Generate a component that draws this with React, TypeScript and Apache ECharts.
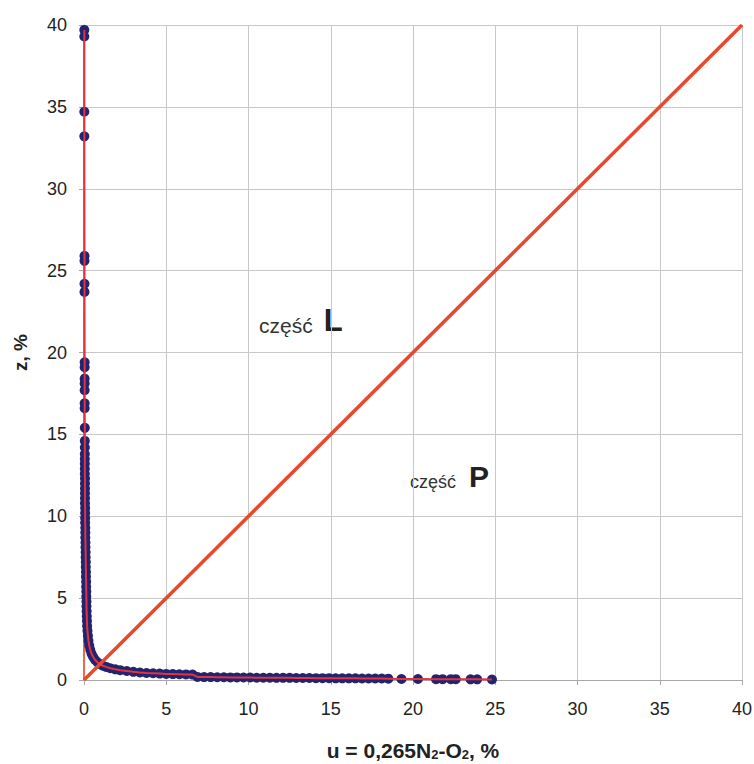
import React, { useEffect, useRef } from "react";
import * as echarts from "echarts";

const curveU = [
  0.02, 0.02, 0.02, 0.02, 0.03, 0.03, 0.03, 0.03, 0.04, 0.04, 0.04, 0.04, 0.04, 0.04, 0.04,
  0.05, 0.05, 0.05, 0.05, 0.05, 0.05, 0.05, 0.05, 0.06, 0.06, 0.06, 0.06, 0.06, 0.06,
  0.07, 0.07, 0.07, 0.07, 0.08, 0.08, 0.08, 0.09, 0.09, 0.1, 0.1, 0.11, 0.11, 0.12, 0.12,
  0.13, 0.13, 0.14, 0.14, 0.15, 0.15, 0.16, 0.17, 0.18, 0.19, 0.21, 0.24, 0.27, 0.32, 0.38,
  0.46, 0.56, 0.68, 0.82, 0.98, 1.15, 1.35, 1.6, 1.9, 2.2, 2.6, 3.0, 3.4, 3.8, 4.2, 4.6,
  5.0, 5.4, 5.8, 6.2, 6.6, 6.9, 7.3, 7.7, 8.1, 8.5, 8.9, 9.3, 9.7, 10.1, 10.5, 10.9, 11.3,
  11.7, 12.1, 12.5, 12.9, 13.3, 13.7, 14.1, 14.5, 14.9, 15.3, 15.7, 16.1, 16.5, 16.9, 17.3,
  17.7, 18.1, 18.5, 19.3, 20.3, 21.4, 21.8, 22.3, 22.6, 23.5, 23.9, 24.8,
];
const curveZ = [
  39.7, 39.3, 34.7, 33.2, 25.9, 25.6, 24.2, 23.7, 19.4, 19.1, 18.4, 18.1, 17.7, 16.9, 16.6,
  15.4, 14.6, 14.2, 13.8, 13.5, 13.2, 12.9, 12.6, 12.3, 12.0, 11.7, 11.4, 11.1, 10.8,
  10.5, 10.2, 9.9, 9.6, 9.3, 9.0, 8.7, 8.4, 8.1, 7.8, 7.5, 7.2, 6.9, 6.6, 6.3,
  6.0, 5.7, 5.4, 5.1, 4.8, 4.5, 4.2, 3.9, 3.6, 3.3, 3.0, 2.7, 2.4, 2.1, 1.85,
  1.6, 1.4, 1.22, 1.08, 0.96, 0.87, 0.8, 0.72, 0.65, 0.6, 0.55, 0.5, 0.46, 0.43, 0.41, 0.39,
  0.37, 0.36, 0.35, 0.34, 0.33, 0.19, 0.18, 0.18, 0.17, 0.17, 0.16, 0.16, 0.15, 0.15, 0.14, 0.14, 0.14,
  0.13, 0.13, 0.13, 0.12, 0.12, 0.12, 0.11, 0.11, 0.11, 0.1, 0.1, 0.1, 0.1, 0.09, 0.09,
  0.09, 0.09, 0.08, 0.06, 0.06, 0.05, 0.05, 0.05, 0.05, 0.04, 0.04, 0.03,
];

// boundaries: vertical u = 0 and diagonal z = u
const verticalU = [0, 0];
const verticalZ = [0, 40];
const diagonalU = [0, 40];
const diagonalZ = [0, 40];

const axisMin = 0;
const axisMax = 40;
const axisStep = 5;

const FONT = "'Liberation Sans', Arial, sans-serif";

export default function App() {
  const ref = useRef<HTMLDivElement>(null);

  useEffect(() => {
    if (!ref.current) return;
    const chart = echarts.init(ref.current, undefined, { renderer: "svg" });
    const curve = curveU.map((u, i) => [u, curveZ[i]]);
    const vertical = verticalU.map((u, i) => [u, verticalZ[i]]);
    const diagonal = diagonalU.map((u, i) => [u, diagonalZ[i]]);

    const axisCommon = {
      type: "value" as const,
      min: axisMin,
      max: axisMax,
      interval: axisStep,
      axisLine: { show: true, onZero: false, lineStyle: { color: "#a8a8a8", width: 1 } },
      axisTick: { show: true, length: 5, lineStyle: { color: "#a8a8a8" } },
      splitLine: { show: true, lineStyle: { color: "#c8c8c8", width: 1 } },
      nameLocation: "middle" as const,
    };

    chart.setOption({
      animation: false,
      backgroundColor: "#ffffff",
      grid: { left: 84, right: 12, top: 25, bottom: 84, outerBoundsMode: "none", containLabel: false },
      xAxis: {
        ...axisCommon,
        name: "u = 0,265N{sub|2}-O{sub|2}, %",
        nameGap: 59,
        nameTextStyle: {
          fontFamily: FONT,
          fontSize: 21,
          lineHeight: 22,
          fontWeight: "bold",
          color: "#222",
          rich: {
            sub: { fontSize: 13, lineHeight: 22, fontWeight: "bold", color: "#222", fontFamily: FONT, verticalAlign: "bottom", padding: [7, 0, 0, 0] },
          },
        },
        axisLabel: { fontFamily: FONT, fontSize: 18, color: "#222", margin: 20 },
      },
      yAxis: {
        ...axisCommon,
        name: "z, %",
        nameGap: 54,
        nameTextStyle: { fontFamily: FONT, fontSize: 19, fontWeight: "bold", color: "#222" },
        axisLabel: { fontFamily: FONT, fontSize: 18, color: "#222", margin: 17 },
      },
      graphic: [
        {
          type: "text",
          left: 259,
          top: 305,
          style: {
            text: "{a|część}{b|L}",
            rich: {
              a: { fontFamily: FONT, fontSize: 21, fill: "#333", verticalAlign: "bottom" },
              b: { fontFamily: FONT, fontSize: 31, fontWeight: "bold", fill: "#222", padding: [0, 0, 0, 11], verticalAlign: "bottom" },
            },
          },
        },
        {
          type: "text",
          left: 410,
          top: 461,
          style: {
            text: "{a|część}{b|P}",
            rich: {
              a: { fontFamily: FONT, fontSize: 18, fill: "#333", verticalAlign: "bottom" },
              b: { fontFamily: FONT, fontSize: 30, fontWeight: "bold", fill: "#222", padding: [0, 0, 0, 13], verticalAlign: "bottom" },
            },
          },
        },
      ],
      series: [
        {
          name: "vertical",
          type: "line",
          data: vertical,
          symbol: "none",
          lineStyle: { color: "#ec6a4c", width: 2 },
          z: 1,
        },
        {
          name: "points",
          type: "scatter",
          data: curve,
          symbol: "circle",
          symbolSize: 10,
          itemStyle: { color: "#222470", opacity: 1 },
          z: 2,
        },
        {
          name: "curve",
          type: "line",
          data: curve,
          symbol: "none",
          lineStyle: { color: "#e4333c", width: 2 },
          z: 3,
        },
        {
          name: "diagonal",
          type: "line",
          data: diagonal,
          symbol: "none",
          lineStyle: { color: "#e8492c", width: 3.5 },
          z: 4,
        },
      ],
    });
    return () => chart.dispose();
  }, []);

  return (
    <div
      ref={ref}
      style={{ position: "absolute", left: 0, top: 0, width: 754, height: 764 }}
    />
  );
}
